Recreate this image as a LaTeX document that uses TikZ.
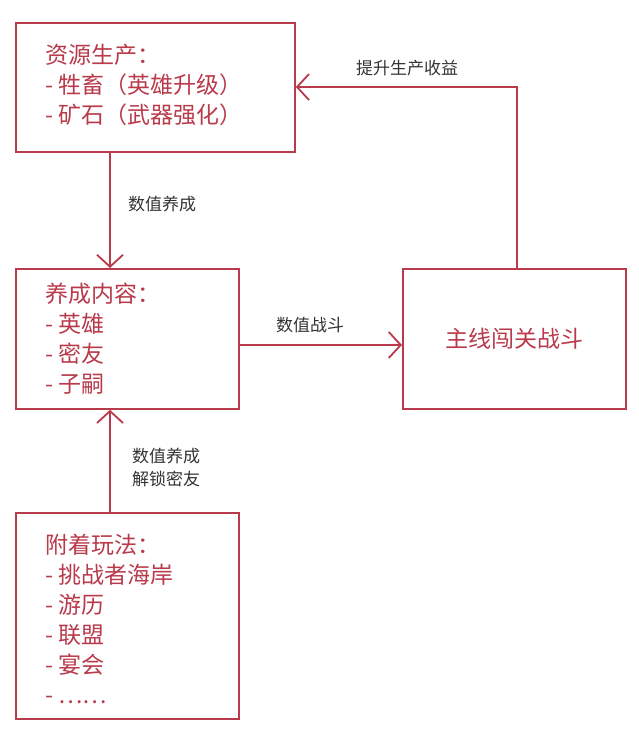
\documentclass[tikz,border=0pt]{standalone}
\usepackage{fontspec}
\setmainfont{Noto Sans CJK SC}
\usetikzlibrary{arrows.meta}
\definecolor{myred}{HTML}{B83A4B}
\definecolor{lbl}{HTML}{333333}
\tikzset{
  box/.style={draw=myred,line width=1.8pt,inner sep=0pt},
  btxt/.style={text=myred,font=\fontsize{23}{30}\selectfont,align=left,anchor=west,inner sep=0pt},
  ltxt/.style={text=lbl,font=\fontsize{17}{23}\selectfont,align=left,anchor=west,inner sep=0pt},
  conn/.style={draw=myred,line width=1.8pt,-{Straight Barb[length=12pt,width=26pt,line width=1.8pt]}}
}
\begin{document}
\begin{tikzpicture}[x=1pt,y=-1pt]
\useasboundingbox (0,0) rectangle (639,732);
\node[box,minimum width=279pt,minimum height=129pt,anchor=north west] (A) at (15,22) {};
\node[box,minimum width=223pt,minimum height=140pt,anchor=north west] (B) at (15,268) {};
\node[box,minimum width=223pt,minimum height=140pt,anchor=north west] (C) at (402,268) {};
\node[box,minimum width=223pt,minimum height=206pt,anchor=north west] (D) at (15,512) {};
\node[btxt] (At) at (45,85) {资源生产：\\- 牲畜（英雄升级）\\- 矿石（武器强化）};
\node[btxt] (Bt) at (45,339) {养成内容：\\- 英雄\\- 密友\\- 子嗣};
\node[text=myred,font=\fontsize{23}{30}\selectfont] (Ct) at (C.center) {主线闯关战斗};
\node[btxt] (Dt) at (45,619) {附着玩法：\\- 挑战者海岸\\- 游历\\- 联盟\\- 宴会\\- ……};
\draw[conn] (A.south -| 110,0) -- (B.north -| 110,0);
\node[ltxt] (l1) at (128,204) {数值养成};
\coordinate (h) at (0,345);
\draw[conn] (B.east |- h) -- (C.west |- h);
\node[ltxt] (l2) at (276,325) {数值战斗};
\coordinate (k) at (517,87);
\draw[conn] (C.north -| k) -- (k) -- (A.east |- k);
\node[ltxt] (l3) at (356,68) {提升生产收益};
\draw[conn] (D.north -| 110,0) -- (B.south -| 110,0);
\node[ltxt] (l4) at (132,467) {数值养成\\解锁密友};
\end{tikzpicture}
\end{document}
